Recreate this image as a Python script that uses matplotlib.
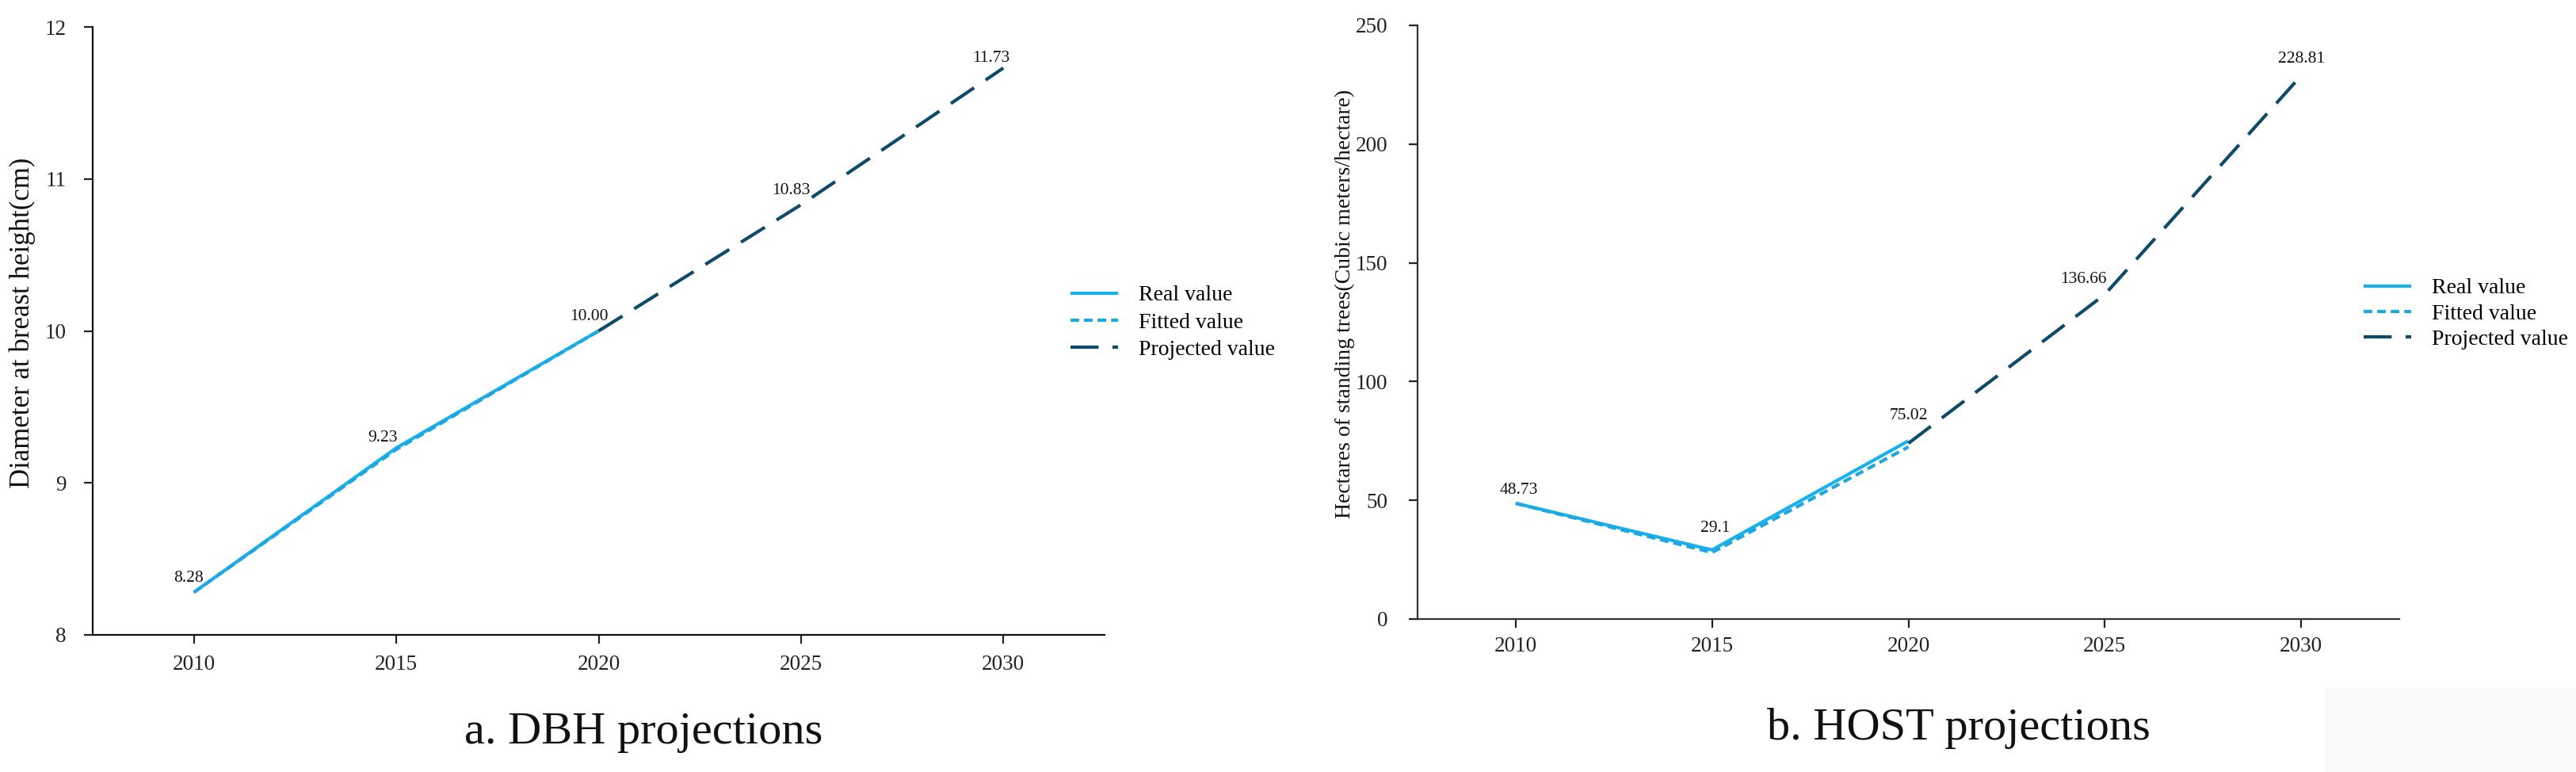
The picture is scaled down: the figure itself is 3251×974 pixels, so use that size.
import matplotlib
matplotlib.use("Agg")
import matplotlib.pyplot as plt
from matplotlib.patches import Rectangle

# ---------------- data ----------------
years_obs = [2010, 2015, 2020]
years_proj = [2020, 2025, 2030]
xticks = [2010, 2015, 2020, 2025, 2030]

dbh_real = [8.28, 9.23, 10.00]
dbh_fitted = [8.28, 9.22, 10.00]
dbh_proj = [10.00, 10.83, 11.73]
dbh_labels = ["8.28", "9.23", "10.00", "10.83", "11.73"]
dbh_label_x = [2010, 2015, 2020, 2025, 2030]
dbh_label_y = [8.28, 9.23, 10.00, 10.83, 11.73]

host_real = [48.73, 29.1, 75.02]
host_fitted = [48.73, 28.0, 72.5]
host_proj = [74.0, 136.66, 228.81]
host_labels = ["48.73", "29.1", "75.02", "136.66", "228.81"]
host_label_x = [2010, 2015, 2020, 2025, 2030]
host_label_y = [48.73, 29.1, 75.02, 136.66, 228.81]

legend_names = ["Real value", "Fitted value", "Projected value"]

# ---------------- style ----------------
plt.rcParams['font.family'] = ['Liberation Serif', 'DejaVu Serif']
C_REAL = '#17b2ee'
C_FIT = '#1ea6e0'
C_PROJ = '#0e4a6a'
LW = 3.0
FIT_DASH = (2.6, 1.5)
PROJ_DASH = (8.5, 4.2)

W, H = 3251, 974
fig = plt.figure(figsize=(W / 100, H / 100), dpi=100)

def px_ax(l, r, t, b):
    return fig.add_axes([l / W, 1 - b / H, (r - l) / W, (b - t) / H])

axL = px_ax(117, 1394, 34, 801)
axR = px_ax(1789, 3028, 32, 781)

def style_axis(ax, ylim, yticks, ypad, xpad, spine_col):
    for s in ['top', 'right']:
        ax.spines[s].set_visible(False)
    for s in ['left', 'bottom']:
        ax.spines[s].set_linewidth(1.6)
        ax.spines[s].set_color(spine_col)
    ax.set_xlim(2007.5, 2032.5)
    ax.set_ylim(*ylim)
    ax.set_xticks(xticks)
    ax.set_yticks(yticks)
    ax.tick_params(axis='both', direction='out', length=8, width=1.6,
                   colors='#222222', labelsize=19.5)
    ax.tick_params(axis='y', pad=ypad)
    ax.tick_params(axis='x', pad=xpad)

def draw(ax, real, fitted, proj, lx, ly, labels, offsets):
    ax.plot(years_obs, real, color=C_REAL, lw=LW, solid_capstyle='butt',
            label=legend_names[0], zorder=3)
    ax.plot(years_obs, fitted, color=C_FIT, lw=LW, linestyle=(0, FIT_DASH),
            dash_capstyle='butt', label=legend_names[1], zorder=4)
    ax.plot(years_proj, proj, color=C_PROJ, lw=LW, linestyle=(0, PROJ_DASH),
            dash_capstyle='butt', label=legend_names[2], zorder=4)
    for x, y, t, off in zip(lx, ly, labels, offsets):
        ax.annotate(t, (x, y), xytext=off, textcoords='offset points',
                    ha='center', va='center', fontsize=15.5, color='#111111')

# Left panel
style_axis(axL, (8, 12), [8, 9, 10, 11, 12], 16, 10, '#111111')
draw(axL, dbh_real, dbh_fitted, dbh_proj, dbh_label_x, dbh_label_y, dbh_labels,
     [(-5, 13), (-12, 9), (-9, 13), (-9, 13), (-11, 9)])
axL.set_ylabel("Diameter at breast height(cm)", fontsize=25, color='#111111')
axL.yaxis.set_label_coords(-0.0564, 0.513)
axL.legend(loc='center left', bbox_to_anchor=(1351 / W, 1 - 407 / H),
           bbox_transform=fig.transFigure, frameon=False, fontsize=20,
           handlelength=2.15, handletextpad=0.93, labelspacing=0.32,
           borderpad=0, borderaxespad=0)

# Right panel
style_axis(axR, (0, 250), [0, 50, 100, 150, 200, 250], 19, 8, '#333333')
draw(axR, host_real, host_fitted, host_proj, host_label_x, host_label_y, host_labels,
     [(3, 12), (3, 20), (0, 23), (-19, 14), (0, 15)])
axR.set_ylabel("Hectares of standing trees(Cubic meters/hectare)", fontsize=20,
               color='#111111')
axR.yaxis.set_label_coords(-0.0638, 0.531)
axR.legend(loc='center left', bbox_to_anchor=(2983 / W, 1 - 396 / H),
           bbox_transform=fig.transFigure, frameon=False, fontsize=20,
           handlelength=2.15, handletextpad=0.93, labelspacing=0.25,
           borderpad=0, borderaxespad=0)

# Panel captions
fig.text(812 / W, 1 - 938 / H, "a. DBH projections", ha='center', va='baseline',
         fontsize=42, color='#111111')
fig.text(2472 / W, 1 - 933 / H, "b. HOST projections", ha='center', va='baseline',
         fontsize=42, color='#111111')

# faint grey block in the bottom-right corner
fig.patches.append(Rectangle((2934 / W, 0), (W - 2934) / W, (974 - 868) / H,
                             transform=fig.transFigure, facecolor='#f9f9f9',
                             edgecolor='none', zorder=-1))

fig.savefig("out.png", dpi=100, facecolor='white')
